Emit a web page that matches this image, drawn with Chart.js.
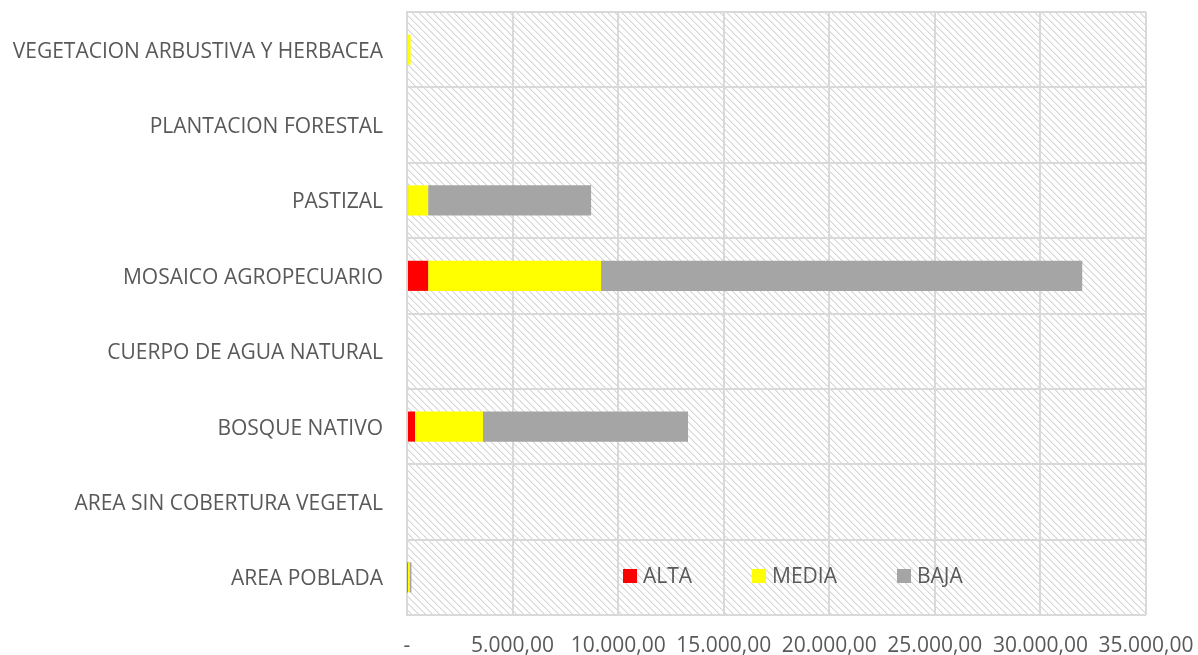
<!DOCTYPE html>
<html>
<head>
<meta charset="utf-8">
<script src="https://cdn.jsdelivr.net/npm/chart.js@4/dist/chart.umd.min.js"></script>
<style>
  html, body { margin: 0; padding: 0; background: #fff; }
  #wrap { width: 1198px; height: 655px; position: relative; }
</style>
</head>
<body>
<div id="wrap"><canvas id="barChart"></canvas></div>
<script>
const categories = [
  'VEGETACION ARBUSTIVA Y HERBACEA',
  'PLANTACION FORESTAL',
  'PASTIZAL',
  'MOSAICO AGROPECUARIO',
  'CUERPO DE AGUA NATURAL',
  'BOSQUE NATIVO',
  'AREA SIN COBERTURA VEGETAL',
  'AREA POBLADA'
];
const alta  = [0, 0, 50, 1000, 0, 380, 0, 20];
const media = [170, 0, 950, 8190, 0, 3220, 0, 100];
const baja  = [0, 0, 7720, 22790, 0, 9710, 0, 90];
const xTicks = [0, 5000, 10000, 15000, 20000, 25000, 30000, 35000];

const labelFont = { family: 'Open Sans', size: 21 };
const textColor = '#595959';

function fmt(v) {
  if (v === 0) return '-';
  const s = Math.round(v).toString().replace(/\B(?=(\d{3})+(?!\d))/g, '.');
  return s + ',00';
}

// hatched background like the original plot area
function makeHatch() {
  const c = document.createElement('canvas');
  c.width = 7; c.height = 7;
  const g = c.getContext('2d');
  g.fillStyle = '#ffffff';
  g.fillRect(0, 0, 7, 7);
  for (let i = 0; i < 7; i++) {
    g.fillStyle = '#d6d6d6';
    g.fillRect(i, i, 1, 1);
    g.fillStyle = '#ececec';
    g.fillRect((i + 1) % 7, i, 1, 1);
  }
  return c;
}

const hatchBg = {
  id: 'hatchBg',
  beforeDraw(chart) {
    const { ctx, chartArea: a } = chart;
    ctx.save();
    ctx.fillStyle = ctx.createPattern(makeHatch(), 'repeat');
    ctx.fillRect(a.left, a.top, a.right - a.left, a.bottom - a.top);
    ctx.restore();
  }
};

// legend drawn inside the plot, near the bottom
const innerLegend = {
  id: 'innerLegend',
  afterDraw(chart) {
    const { ctx } = chart;
    const xs = [623, 752, 897];
    const y = 576;
    ctx.save();
    ctx.font = labelFont.size + 'px ' + labelFont.family;
    ctx.textBaseline = 'middle';
    chart.data.datasets.forEach((ds, i) => {
      ctx.fillStyle = ds.backgroundColor;
      ctx.fillRect(xs[i], y - 7, 14, 14);
      ctx.fillStyle = textColor;
      ctx.fillText(ds.label, xs[i] + 20, y + 1);
    });
    ctx.restore();
  }
};

const ctx = document.getElementById('barChart').getContext('2d');
const chart = new Chart(ctx, {
  type: 'bar',
  data: {
    labels: categories,
    datasets: [
      { label: 'ALTA', data: alta, backgroundColor: '#ff0000' },
      { label: 'MEDIA', data: media, backgroundColor: '#ffff00' },
      { label: 'BAJA', data: baja, backgroundColor: '#a5a5a5' }
    ]
  },
  options: {
    indexAxis: 'y',
    responsive: true,
    maintainAspectRatio: false,
    animation: false,
    layout: { padding: { top: 12, right: 52, left: 0, bottom: 0 } },
    datasets: { bar: { barPercentage: 0.4, categoryPercentage: 1 } },
    plugins: {
      legend: { display: false },
      tooltip: { enabled: false }
    },
    scales: {
      x: {
        stacked: true,
        min: 0,
        max: 35000,
        afterBuildTicks: s => { s.ticks = xTicks.map(v => ({ value: v })); },
        afterFit: s => { s.height = 40; s.paddingLeft = 0; s.paddingRight = 0; },
        grid: { color: '#d9d9d9', lineWidth: 2, drawTicks: false },
        border: { display: false },
        ticks: {
          padding: 18,
          color: textColor,
          font: labelFont,
          maxRotation: 0,
          callback: v => fmt(v)
        }
      },
      y: {
        stacked: true,
        afterFit: s => { s.width = 407; s.paddingTop = 0; s.paddingBottom = 0; },
        grid: { color: '#d9d9d9', lineWidth: 2, drawTicks: false, offset: true },
        border: { color: '#d9d9d9', width: 2 },
        ticks: {
          padding: 24,
          labelOffset: 2,
          color: textColor,
          font: labelFont
        }
      }
    }
  },
  plugins: [hatchBg, innerLegend]
});
</script>
</body>
</html>
